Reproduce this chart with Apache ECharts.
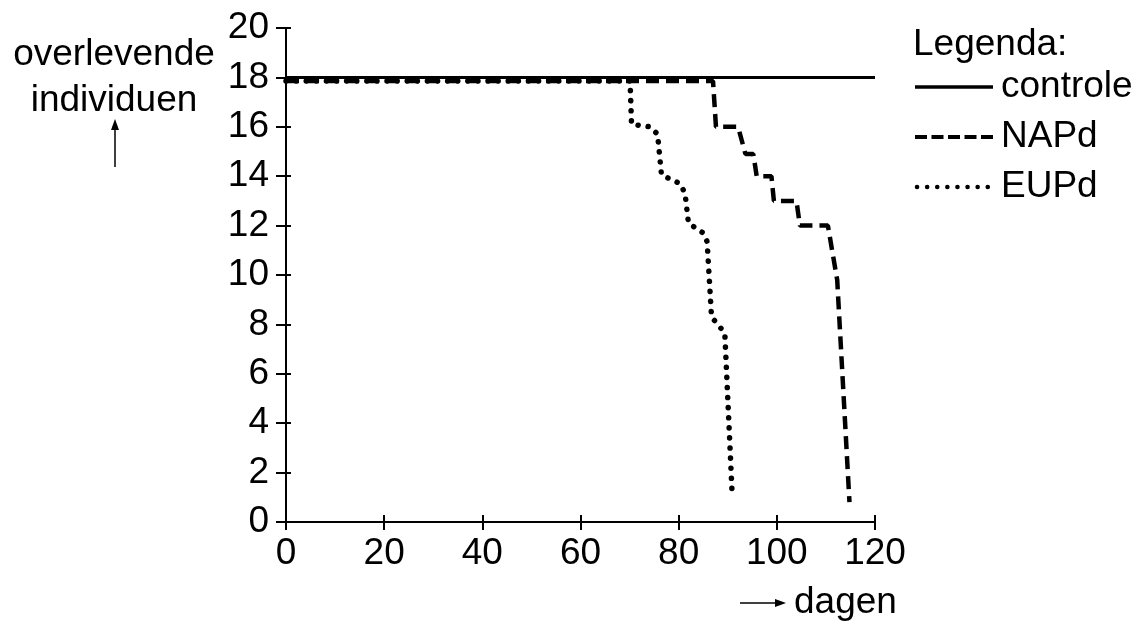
<!DOCTYPE html>
<html>
<head>
<meta charset="utf-8">
<script src="https://cdn.jsdelivr.net/npm/echarts@6/dist/echarts.min.js"></script>
<style>
html,body{margin:0;padding:0;background:#fff;}
#chart{width:1148px;height:634px;}
</style>
</head>
<body>
<div id="chart"></div>
<script>
// ---- data (days, surviving individuals) ----
const seriesNames = ['controle', 'NAPd', 'EUPd'];
const controle = [[0, 18], [120, 18]];
const NAPd = [[0, 17.85], [87.0, 17.85], [87.6, 16], [92.1, 16], [93.6, 14.9], [95.2, 14.9], [95.9, 14],
  [98.9, 14], [99.4, 13], [104.0, 13], [104.7, 12], [110.4, 12], [112.3, 9.8], [114.8, 0.8]];
const EUPd = [[0, 17.85], [70.1, 17.85], [70.4, 16.1], [74.2, 16], [75.7, 15.7], [76.5, 14.05], [80.3, 13.7],
  [81.3, 13.3], [82.0, 12.1], [85.0, 11.7], [85.8, 11.35], [86.7, 8.3], [89.4, 7.65], [90.9, 1.1]];
const xTicks = [0, 20, 40, 60, 80, 100, 120];
const yTicks = [0, 2, 4, 6, 8, 10, 12, 14, 16, 18, 20];
const yTitle = ['overlevende', 'individuen'];
const xTitle = 'dagen';
const legendTitle = 'Legenda:';

const FONT = '"Liberation Sans", Arial, sans-serif';
const FS = 37;
const chart = echarts.init(document.getElementById('chart'));

function xAxisDef(withLabels) {
  return {
    type: 'value', position: 'bottom', offset: 0,
    min: xTicks[0], max: xTicks[xTicks.length - 1], interval: xTicks[1] - xTicks[0],
    splitLine: { show: false },
    axisLine: { show: withLabels, onZero: false, lineStyle: { color: '#000', width: 2 } },
    axisTick: { show: true, inside: !withLabels, length: withLabels ? 8 : 7, lineStyle: { color: '#000', width: 2 } },
    axisLabel: { show: withLabels, color: '#000', fontFamily: FONT, fontSize: FS, margin: 13 }
  };
}
function yAxisDef(withLabels) {
  return {
    type: 'value', position: 'left', offset: 0,
    min: yTicks[0], max: yTicks[yTicks.length - 1], interval: yTicks[1] - yTicks[0],
    splitLine: { show: false },
    axisLine: { show: withLabels, onZero: false, lineStyle: { color: '#000', width: 2 } },
    axisTick: { show: true, inside: !withLabels, length: withLabels ? 10 : 5, lineStyle: { color: '#000', width: 2 } },
    axisLabel: { show: withLabels, color: '#000', fontFamily: FONT, fontSize: FS, margin: 17 }
  };
}

const legendStyles = [
  { lineWidth: 3.5, lineDash: null, lineCap: 'butt' },
  { lineWidth: 4, lineDash: [12, 4.5], lineCap: 'butt' },
  { lineWidth: 4.5, lineDash: [0.1, 10], lineCap: 'round' }
];
const legendGraphics = [];
seriesNames.forEach(function (name, i) {
  const y = 87 + i * 50;
  const st = legendStyles[i];
  legendGraphics.push({ type: 'line', shape: { x1: 915 + (i === 2 ? 2 : 0), y1: y, x2: 993, y2: y },
    style: { stroke: '#000', lineWidth: st.lineWidth, lineDash: st.lineDash, lineCap: st.lineCap } });
  legendGraphics.push({ type: 'text', x: 1001, y: y, style: { text: name, font: FS + 'px ' + FONT, fill: '#000', textAlign: 'left', textVerticalAlign: 'middle' } });
});

const option = {
  backgroundColor: '#fff',
  animation: false,
  grid: { left: 286, right: 273, top: 28, bottom: 112, containLabel: false },
  xAxis: [xAxisDef(true), xAxisDef(false)],
  yAxis: [yAxisDef(true), yAxisDef(false)],
  series: [
    { name: seriesNames[0], type: 'line', data: controle, symbol: 'none', z: 3,
      lineStyle: { color: '#000', width: 3, type: 'solid' } },
    { name: seriesNames[1], type: 'line', data: NAPd, symbol: 'none', z: 2,
      lineStyle: { color: '#000', width: 4.5, type: [13, 7] } },
    { name: seriesNames[2], type: 'line', data: EUPd, symbol: 'none', z: 2,
      lineStyle: { color: '#000', width: 5.5, type: [0.1, 10], cap: 'round' } }
  ],
  graphic: [
    { type: 'text', x: 913, y: 45, style: { text: legendTitle, font: FS + 'px ' + FONT, fill: '#000', textAlign: 'left', textVerticalAlign: 'middle' } },
    { type: 'text', x: 114, y: 55, style: { text: yTitle[0], font: FS + 'px ' + FONT, fill: '#000', textAlign: 'center', textVerticalAlign: 'middle' } },
    { type: 'text', x: 114, y: 101, style: { text: yTitle[1], font: FS + 'px ' + FONT, fill: '#000', textAlign: 'center', textVerticalAlign: 'middle' } },
    { type: 'line', shape: { x1: 115, y1: 167, x2: 115, y2: 126 }, style: { stroke: '#000', lineWidth: 1.5 } },
    { type: 'polygon', shape: { points: [[115, 119], [111, 130], [119, 130]] }, style: { fill: '#000' } },
    { type: 'line', shape: { x1: 740, y1: 603, x2: 778, y2: 603 }, style: { stroke: '#000', lineWidth: 1.5 } },
    { type: 'polygon', shape: { points: [[786, 603], [775, 599], [775, 607]] }, style: { fill: '#000' } },
    { type: 'text', x: 794, y: 603, style: { text: xTitle, font: FS + 'px ' + FONT, fill: '#000', textAlign: 'left', textVerticalAlign: 'middle' } }
  ].concat(legendGraphics)
};
chart.setOption(option);
</script>
</body>
</html>
